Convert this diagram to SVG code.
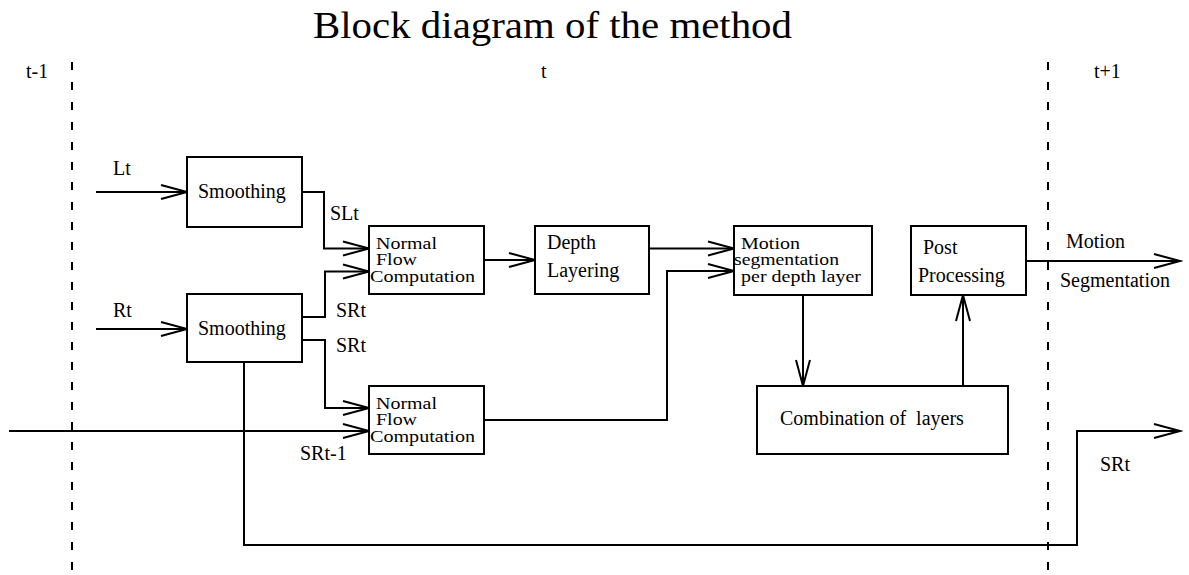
<svg xmlns="http://www.w3.org/2000/svg" width="1189" height="575" viewBox="0 0 1189 575">
<style>
text{font-family:"Liberation Serif","Times New Roman",serif;font-size:20px;fill:#000}
text.s{font-size:17.5px}
.box{fill:#fff;stroke:#000;stroke-width:2}
.c{fill:none;stroke:#000;stroke-width:2}
.dash{fill:none;stroke:#000;stroke-width:2;stroke-dasharray:8 12}
</style>
<defs>
<marker id="ah" markerUnits="userSpaceOnUse" markerWidth="30" markerHeight="18" viewBox="0 0 30 18" refX="27" refY="9" orient="auto">
<path d="M1,2 L27,9 L1,16" fill="none" stroke="#000" stroke-width="2"/>
</marker>
</defs>
<rect width="1189" height="575" fill="#fff"/>
<text x="313" y="37.5" style="font-size:38px" textLength="479" lengthAdjust="spacingAndGlyphs">Block diagram of the method</text>
<g id="timeline">
<line class="dash" x1="72" y1="62" x2="72" y2="575"/>
<line class="dash" x1="1048" y1="62" x2="1048" y2="575"/>
<text x="26" y="78">t-1</text>
<text x="541" y="78">t</text>
<text x="1094" y="78">t+1</text>
</g>
<g id="connectors">
<path class="c" d="M96,192 H187" marker-end="url(#ah)"/>
<path class="c" d="M96,329 H187" marker-end="url(#ah)"/>
<path class="c" d="M302,192 H324 V248.5 H369" marker-end="url(#ah)"/>
<path class="c" d="M302,317 H325 V271.5 H369" marker-end="url(#ah)"/>
<path class="c" d="M302,340 H325 V408 H369" marker-end="url(#ah)"/>
<path class="c" d="M9,431 H369" marker-end="url(#ah)"/>
<path class="c" d="M484,260 H535" marker-end="url(#ah)"/>
<path class="c" d="M649,248.5 H734" marker-end="url(#ah)"/>
<path class="c" d="M484,420 H667 V271 H734" marker-end="url(#ah)"/>
<path class="c" d="M803,295 V386" marker-end="url(#ah)"/>
<path class="c" d="M963,386 V295" marker-end="url(#ah)"/>
<path class="c" d="M1026,261 H1180" marker-end="url(#ah)"/>
<path class="c" d="M244,362 V545 H1077 V431 H1180" marker-end="url(#ah)"/>
<text x="113" y="175">Lt</text>
<text x="113" y="317">Rt</text>
<text x="330" y="220">SLt</text>
<text x="336" y="317">SRt</text>
<text x="336" y="352">SRt</text>
<text x="300" y="460">SRt-1</text>
<text x="1066" y="248">Motion</text>
<text x="1060" y="287">Segmentation</text>
<text x="1100" y="471">SRt</text>
</g>
<g id="smoothing-l">
<rect class="box" x="187" y="157" width="115" height="70"/>
<text x="198" y="198">Smoothing</text>
</g>
<g id="smoothing-r">
<rect class="box" x="187" y="294" width="115" height="68"/>
<text x="198" y="335">Smoothing</text>
</g>
<g id="nfc1">
<rect class="box" x="369" y="226" width="115" height="68"/>
<text class="s" x="376" y="248.5" textLength="61" lengthAdjust="spacingAndGlyphs">Normal</text>
<text class="s" x="376" y="265" textLength="41" lengthAdjust="spacingAndGlyphs">Flow</text>
<text class="s" x="370" y="281.5" textLength="105" lengthAdjust="spacingAndGlyphs">Computation</text>
</g>
<g id="nfc2">
<rect class="box" x="369" y="386" width="115" height="68"/>
<text class="s" x="376" y="408.5" textLength="61" lengthAdjust="spacingAndGlyphs">Normal</text>
<text class="s" x="376" y="425" textLength="41" lengthAdjust="spacingAndGlyphs">Flow</text>
<text class="s" x="370" y="441.5" textLength="105" lengthAdjust="spacingAndGlyphs">Computation</text>
</g>
<g id="depth">
<rect class="box" x="535" y="226" width="114" height="68"/>
<text x="547" y="248.5">Depth</text>
<text x="547" y="276.5">Layering</text>
</g>
<g id="motion-seg">
<rect class="box" x="734" y="226" width="138" height="69"/>
<text class="s" x="741" y="248.5" textLength="59" lengthAdjust="spacingAndGlyphs">Motion</text>
<text class="s" x="734" y="265" textLength="105" lengthAdjust="spacingAndGlyphs">segmentation</text>
<text class="s" x="741" y="281.5" textLength="120" lengthAdjust="spacingAndGlyphs">per depth layer</text>
</g>
<g id="post">
<rect class="box" x="911" y="226" width="115" height="69"/>
<text x="923" y="254">Post</text>
<text x="918" y="281.5">Processing</text>
</g>
<g id="combination">
<rect class="box" x="757" y="386" width="251" height="68"/>
<text x="780" y="425" xml:space="preserve">Combination of  layers</text>
</g>
</svg>
